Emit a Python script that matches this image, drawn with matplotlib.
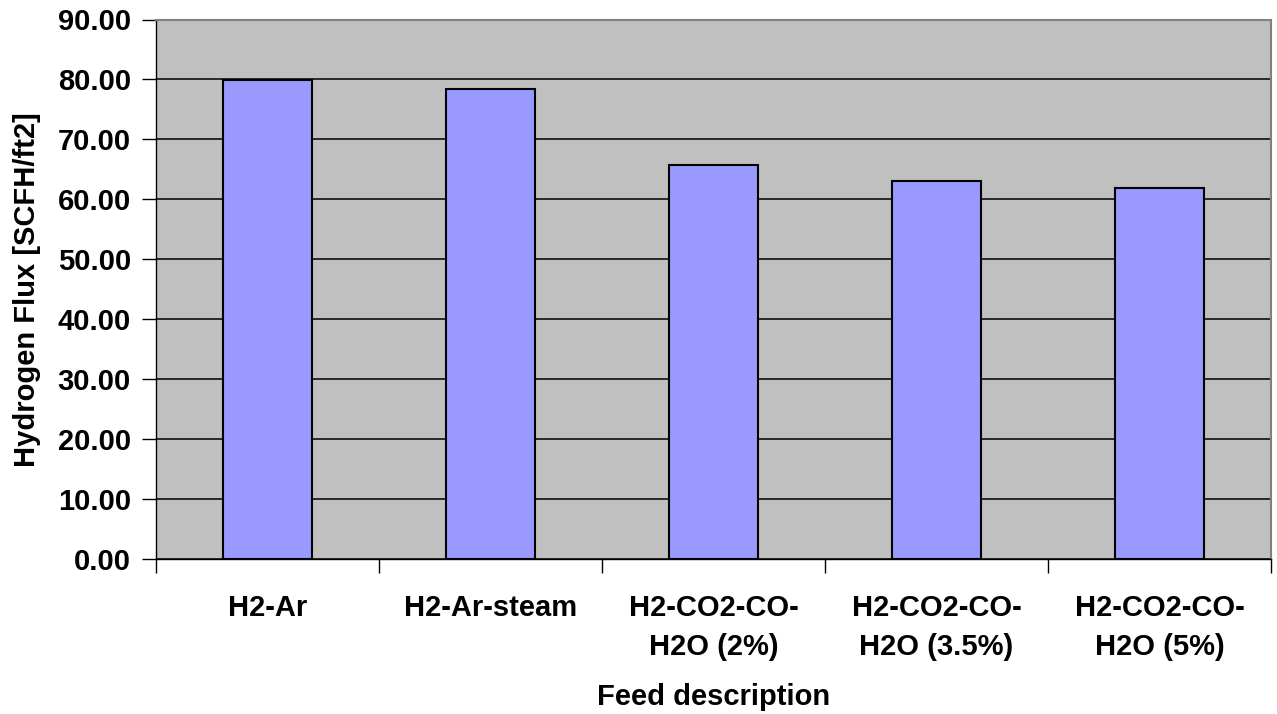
import matplotlib
matplotlib.use("Agg")
import matplotlib.pyplot as plt
import numpy as np

plt.rcParams['font.family'] = ['Liberation Sans', 'DejaVu Sans']
plt.rcParams['font.weight'] = 'bold'

feeds = ["H2-Ar", "H2-Ar-steam", "H2-CO2-CO-\nH2O (2%)", "H2-CO2-CO-\nH2O (3.5%)", "H2-CO2-CO-\nH2O (5%)"]
flux = [79.9, 78.4, 65.8, 63.1, 61.9]
y_ticks = np.arange(0, 91, 10)

bar_colour = "#9999FF"
plot_bg = "#C0C0C0"

fig = plt.figure(figsize=(12.77, 7.14), dpi=100)
ax = fig.add_axes([156 / 1277, 155 / 714, 1115 / 1277, 539.5 / 714])
ax.set_facecolor(plot_bg)

x = np.arange(len(feeds))
ax.bar(x, flux, width=0.4, color=bar_colour, edgecolor="black", linewidth=1.5, zorder=3)

ax.set_xlim(-0.5, len(feeds) - 0.5)
ax.set_ylim(0, 90)
ax.set_yticks(y_ticks)
ax.set_yticklabels([f"{v:.2f}" for v in y_ticks])
ax.yaxis.grid(True, color="black", linewidth=1.1, zorder=1)
ax.set_axisbelow(True)

# category boundaries get tick marks, centres carry the labels
ax.set_xticks(np.arange(len(feeds) + 1) - 0.5)
ax.set_xticklabels([])
ax.set_xticks(x, minor=True)
ax.set_xticklabels(feeds, minor=True, fontsize=21, fontweight="bold", linespacing=1.5)
ax.tick_params(axis="x", which="minor", length=0, pad=25)
ax.tick_params(axis="x", which="major", length=10, width=1, direction="out")
ax.tick_params(axis="y", length=10, width=1, direction="out", pad=8, labelsize=21)

for side in ["top", "right"]:
    ax.spines[side].set_color("#808080")
    ax.spines[side].set_linewidth(1.5)
for side in ["left", "bottom"]:
    ax.spines[side].set_color("black")
    ax.spines[side].set_linewidth(1)

ax.set_ylabel("Hydrogen Flux [SCFH/ft2]", fontsize=21, fontweight="bold", labelpad=12)
ax.set_xlabel("Feed description", fontsize=21, fontweight="bold", labelpad=16)

fig.savefig("out.png", dpi=100)
